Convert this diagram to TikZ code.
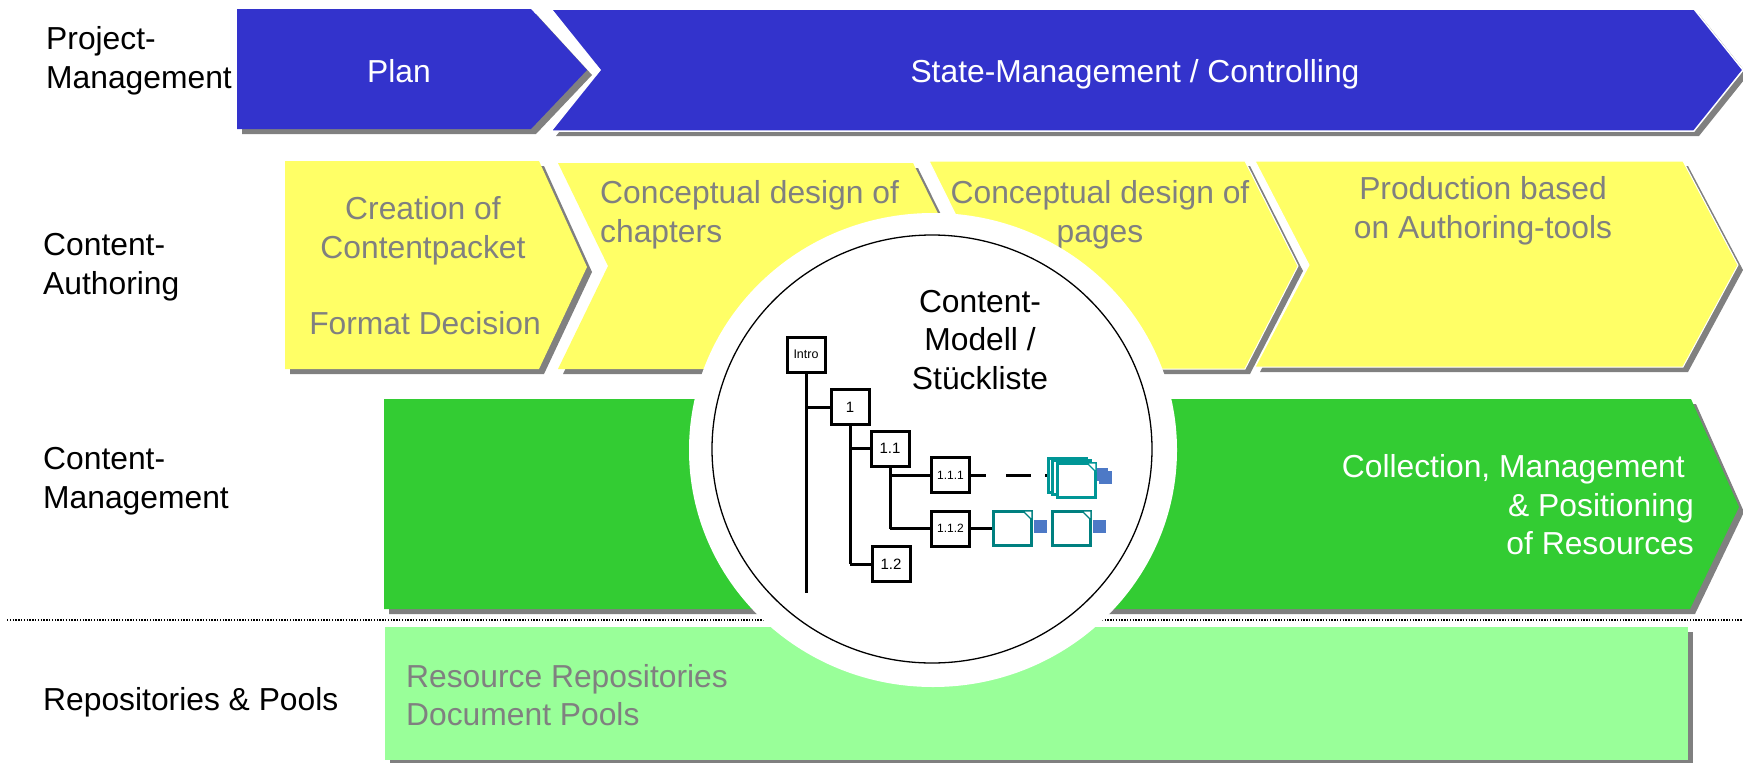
\documentclass[tikz,border=0pt]{standalone}
\usepackage{fontspec}
\setmainfont{Liberation Sans}
\usepackage{xcolor}
\definecolor{planblue}{RGB}{51,51,204}
\definecolor{authyellow}{RGB}{255,255,102}
\definecolor{mgmtgreen}{RGB}{51,204,51}
\definecolor{poolgreen}{RGB}{153,255,153}
\definecolor{shadowgray}{RGB}{128,128,128}
\definecolor{docteal}{RGB}{0,128,128}
\definecolor{stackteal}{RGB}{0,150,150}
\definecolor{tabblue}{RGB}{77,121,198}
\tikzset{
	bigtext/.style={inner sep=0pt,font=\fontsize{31.8}{38.5}\selectfont},
	rowlabel/.style={bigtext,anchor=west,align=left,text=black},
	graytext/.style={bigtext,text=shadowgray,align=center},
	whitetext/.style={bigtext,text=white,align=center},
	treebox/.style={draw,line width=3pt,fill=white,minimum width=38pt,minimum height=35pt,inner sep=0pt},
	treeline/.style={line width=3pt},
	docbox/.style={draw=docteal,line width=3pt,fill=white,minimum width=38.5pt,minimum height=34.5pt,inner sep=0pt},
	tabbox/.style={fill=tabblue,minimum width=13pt,minimum height=13pt,inner sep=0pt},
	foldmark/.style={fill=white,draw=docteal,line width=1.2pt},
	shadowshape/.style={fill=shadowgray,shift={(5pt,-5pt)}}
}
\begin{document}
\begin{tikzpicture}[x=1pt,y=-1pt]
		\useasboundingbox (0,0) rectangle (1743,763);
		% first row
		\fill[shadowshape] (237,9) -- (531,9) -- (587,70) -- (531,129) -- (237,129) -- cycle;
		\fill[planblue] (237,9) -- (531,9) -- (587,70) -- (531,129) -- (237,129) -- cycle;
		\fill[shadowshape] (551,9) -- (1694,9) -- (1743,70) -- (1694,131) -- (551,131) -- (600,70) -- cycle;
		\fill[planblue,draw=white,line width=1.5pt] (551,9) -- (1694,9) -- (1743,70) -- (1694,131) -- (551,131) -- (600,70) -- cycle;
		% second row
		\fill[shadowshape] (285,161) -- (539,161) -- (587,267) -- (539,369) -- (285,369) -- cycle;
		\fill[authyellow] (285,161) -- (539,161) -- (587,267) -- (539,369) -- (285,369) -- cycle;
		\fill[shadowshape] (558,163) -- (913,163) -- (964,266) -- (913,369) -- (558,369) -- (608,266) -- cycle;
		\fill[authyellow] (558,163) -- (913,163) -- (964,266) -- (913,369) -- (558,369) -- (608,266) -- cycle;
		\fill[shadowshape] (929,161) -- (1245,161) -- (1298,266) -- (1245,369) -- (929,369) -- (981,266) -- cycle;
		\fill[authyellow,draw=white,line width=1pt] (929,161) -- (1245,161) -- (1298,266) -- (1245,369) -- (929,369) -- (981,266) -- cycle;
		\fill[shadowshape] (1255,161) -- (1683,161) -- (1738,265) -- (1683,367) -- (1255,367) -- (1309,265) -- cycle;
		\fill[authyellow,draw=white,line width=1pt] (1255,161) -- (1683,161) -- (1738,265) -- (1683,367) -- (1255,367) -- (1309,265) -- cycle;
		% third row
		\fill[shadowshape] (384,399) -- (1691,399) -- (1739,507) -- (1690,609) -- (384,609) -- cycle;
		\fill[mgmtgreen] (384,399) -- (1691,399) -- (1739,507) -- (1690,609) -- (384,609) -- cycle;
		\draw[line width=1.4pt,dash pattern=on 1.4pt off 1.4pt] (7,620) -- (1743,620);
		% fourth row
		\fill[shadowshape] (385,627) rectangle (1688,760);
		\fill[poolgreen] (385,627) rectangle (1688,760);
		%
		\node[rowlabel] (project) at (46,61) {Project-\\Management};
		\node[rowlabel] (authoring) at (43,267) {Content-\\Authoring};
		\node[rowlabel] (management) at (43,481) {Content-\\Management};
		\node[rowlabel] (pools) at (43,702) {Repositories \& Pools};
		%
		\node[whitetext] (plan) at (399,71) {Plan};
		\node[whitetext] (state) at (1135,74) {State-Management / Controlling};
		\node[graytext] (creation) at (423,231) {Creation of\\Contentpacket};
		\node[graytext] (format) at (425,323) {Format Decision};
		\node[graytext,align=left,anchor=west] (chapters) at (600,215) {Conceptual design of\\chapters};
		\node[graytext] (pages) at (1100,215) {Conceptual design of\\pages};
		\node[graytext] (production) at (1483,211) {Production based\\on Authoring-tools};
		\node[whitetext,align=right,anchor=east] (collection) at (1694,505) {Collection, Management\hspace{9pt}\mbox{}\\\& Positioning\\of Resources};
		\node[graytext,align=left,anchor=west] (repos) at (406,695) {Resource Repositories\\Document Pools};
		%
		\coordinate (ring) at (933,450);
		\fill[white] (ring) ellipse (244 and 237);
		\draw[line width=1.3pt] (932,449) ellipse (220 and 214);
		\node[bigtext,align=center] (model) at (980,340) {Content-\\Modell /\\Stückliste};
		%
		\node[treebox,font=\fontsize{12.5}{15}\selectfont] (intro) at (806,354.5) {Intro};
		\node[treebox,font=\fontsize{15}{18}\selectfont] (b1) at (850,407) {1};
		\node[treebox,font=\fontsize{15}{18}\selectfont] (b11) at (890,448.5) {1.1};
		\node[treebox,font=\fontsize{15}{18}\selectfont] (b12) at (891,564) {1.2};
		\node[treebox,font=\fontsize{12}{14}\selectfont] (b111) at (950.5,475) {1.1.1};
		\node[treebox,font=\fontsize{12}{14}\selectfont] (b112) at (950.5,528.5) {1.1.2};
		\coordinate (introend) at (806,593);
		%
		\node[tabbox] (tabc) at (1105,477) {};
		\node[tabbox] (tabd) at (1101,474) {};
		\node[docbox,draw=stackteal] (stacka) at (1067.5,475.5) {};
		\node[docbox,draw=stackteal] (stackb) at (1071.5,477.5) {};
		\node[docbox,draw=stackteal] (stackc) at (1076.5,480.5) {};
		\draw[foldmark,draw=stackteal] (1087,463) -- (1096,463) -- (1096,472) -- cycle;
		\node[tabbox] (taba) at (1040,526) {};
		\node[tabbox] (tabb) at (1099,526) {};
		\node[docbox] (doca) at (1012.5,528.5) {};
		\node[docbox] (docb) at (1071.5,528.5) {};
		\draw[foldmark] (1023,511) -- (1032,511) -- (1032,520) -- cycle;
		\draw[foldmark] (1082,511) -- (1091,511) -- (1091,520) -- cycle;
		%
		\path[treeline]
		(intro) edge (introend)
		(intro |- b1) edge (b1)
		(b1) edge (b1 |- b12)
		(b1 |- b11) edge (b11)
		(b1 |- b12) edge (b12)
		(b11) edge (b11 |- b112)
		(b11 |- b111) edge (b111)
		(b11 |- b112) edge (b112)
		(b112) edge (doca);
		\draw[treeline,dash pattern=on 15pt off 20pt on 25pt off 14pt on 5pt] (b111) -- (b111 -| stacka.west);
		\end{tikzpicture}
\end{document}
